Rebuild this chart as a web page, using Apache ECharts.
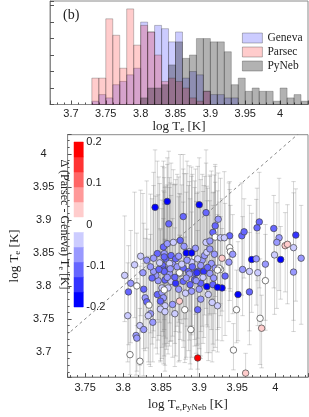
<!DOCTYPE html>
<html><head><meta charset="utf-8">
<script src="https://cdn.jsdelivr.net/npm/echarts@6/dist/echarts.min.js"></script>
<style>html,body{margin:0;padding:0;background:#fff}#c{width:309px;height:417px}</style>
</head><body><div id="c"></div>
<script>
// ---- histogram (panel b, top) ----
const histBinStarts = [3.73,3.74,3.75,3.76,3.77,3.78,3.79,3.80,3.81,3.82,3.83,3.84,3.85,3.86,3.87,3.88,3.89,3.90,3.91,3.92,3.93,3.94,3.95,3.96,3.97,3.98,3.99,4.00,4.01,4.02,4.03];
const histBinWidth = 0.01;
const genevaCounts = [1,3,2,6,7,9,11,25,22,24,23,19,22,8,10,9,4,3,3,2,2,0,0,0,0,0,0,0,0,0,0];
const parsecCounts = [8,8,26,21,11,29,18,24,22,15,7,8,7,5,2,1,4,0,0,0,0,0,0,0,0,0,0,0,0,0,0];
const pynebCounts  = [0,0,0,0,0,0,0,2,5,5,6,12,19,14,15,20,20,19,19,16,6,8,4,5,4,4,1,5,2,3,1];
const histNames = ['Geneva','Parsec','PyNeb'];
const histColors = ['rgba(0,0,255,0.2)','rgba(255,0,0,0.2)','rgba(0,0,0,0.3)'];

// ---- colour bar ----
const cbMin = -0.2, cbMax = 0.2;
const cbColors = ['#0000ff','#3333ff','#6666ff','#9999ff','#ccccff','#ffffff','#ffcccc','#ff9999','#ff6666','#ff3333','#ff0000'];

// ---- scatter: [logTe PyNeb, logTe, delta(Parsec-Geneva), err down, err up] ----
const stars = [
[3.842,3.919,-0.19,0.09,0.087],[3.858,3.928,-0.19,0.10,0.066],[3.900,3.923,-0.19,0.10,0.071],[3.879,3.905,-0.12,0.11,0.094],
[3.860,3.894,-0.11,0.09,0.11],[3.909,3.911,-0.10,0.10,0.095],[3.925,3.901,-0.08,0.08,0.07],[3.921,3.891,-0.10,0.12,0.09],
[3.918,3.881,-0.10,0.10,0.06],[3.875,3.869,-0.11,0.12,0.13],[3.940,3.876,-0.11,0.08,0.07],[3.956,3.876,-0.11,0.09,0.08],
[3.959,3.882,-0.11,0.07,0.05],[3.979,3.897,-0.11,0.10,0.075],[3.976,3.888,-0.12,0.08,0.06],[3.998,3.887,-0.11,0.09,0.05],
[4.027,3.877,-0.15,0.10,0.07],[4.005,3.873,-0.07,0.08,0.09],[4.002,3.866,-0.08,0.10,0.06],[4.013,3.861,0.04,0.07,0.05],
[4.016,3.863,0.05,0.09,0.06],[4.024,3.858,-0.05,0.11,0.10],[3.999,3.847,-0.05,0.09,0.04],[4.007,3.840,-0.18,0.06,0.05],
[4.034,3.842,-0.07,0.10,0.08],[3.969,3.840,-0.18,0.08,0.07],[3.975,3.841,-0.07,0.07,0.09],[3.987,3.833,-0.07,0.10,0.06],
[3.940,3.858,0.00,0.08,0.10],[3.941,3.852,0.00,0.06,0.07],[3.944,3.848,-0.07,0.09,0.06],[3.930,3.842,0.04,0.08,0.09],
[3.957,3.825,-0.07,0.07,0.08],[3.966,3.822,-0.05,0.09,0.10],[3.977,3.820,-0.05,0.08,0.06],[4.024,3.821,-0.08,0.09,0.12],
[3.928,3.825,0.00,0.07,0.08],[3.987,3.808,0.00,0.06,0.07],[3.966,3.791,-0.10,0.08,0.09],[3.951,3.787,-0.19,0.07,0.08],
[3.949,3.764,0.00,0.05,0.06],[3.980,3.751,0.00,0.07,0.09],[3.982,3.736,0.05,0.06,0.05],[3.945,3.703,0.00,0.03,0.04],
[3.961,3.668,0.05,0.01,0.03],[3.898,3.691,0.19,0.03,0.09],[3.889,3.734,0.00,0.06,0.10],[3.881,3.764,0.00,0.08,0.11],
[3.898,3.764,-0.11,0.09,0.12],[3.874,3.777,0.05,0.09,0.10],[3.868,3.758,-0.05,0.08,0.13],[3.855,3.770,-0.05,0.09,0.10],
[3.882,3.789,-0.04,0.10,0.12],[3.924,3.770,-0.05,0.07,0.10],[3.934,3.815,-0.11,0.09,0.11],[3.930,3.797,-0.18,0.08,0.09],
[3.802,3.816,-0.05,0.07,0.09],[3.810,3.804,-0.07,0.09,0.08],[3.818,3.800,0.00,0.06,0.08],[3.807,3.791,-0.12,0.08,0.07],
[3.827,3.795,-0.12,0.09,0.10],[3.829,3.782,-0.07,0.08,0.09],[3.831,3.776,-0.10,0.07,0.11],[3.834,3.771,0.00,0.09,0.10],
[3.836,3.758,-0.07,0.08,0.12],[3.833,3.755,-0.05,0.07,0.09],[3.839,3.745,-0.07,0.06,0.10],[3.806,3.755,-0.05,0.07,0.08],
[3.822,3.740,-0.05,0.06,0.09],[3.827,3.734,-0.07,0.07,0.10],[3.817,3.725,-0.07,0.06,0.08],[3.818,3.721,-0.07,0.05,0.09],
[3.809,3.696,0.00,0.03,0.06],[3.822,3.686,0.00,0.03,0.08],[3.845,3.787,-0.11,0.09,0.13],[3.849,3.765,-0.05,0.08,0.12],
[3.855,3.761,-0.04,0.09,0.11],[3.851,3.790,-0.07,0.10,0.14],[3.846,3.808,-0.07,0.09,0.13],[3.843,3.816,-0.08,0.11,0.12],
[3.854,3.849,-0.08,0.10,0.13],[3.856,3.841,-0.12,0.12,0.11],[3.863,3.846,-0.10,0.09,0.14],[3.865,3.834,-0.07,0.11,0.12],
[3.852,3.831,-0.11,0.10,0.15],[3.857,3.824,-0.11,0.12,0.10],[3.871,3.829,-0.07,0.09,0.14],[3.875,3.819,0.00,0.10,0.12],
[3.879,3.827,-0.11,0.11,0.15],[3.886,3.822,-0.10,0.12,0.13],[3.894,3.819,-0.12,0.10,0.14],[3.898,3.822,-0.11,0.11,0.12],
[3.904,3.839,-0.07,0.10,0.13],[3.907,3.846,-0.07,0.09,0.12],[3.910,3.851,-0.05,0.11,0.10],[3.914,3.856,-0.07,0.10,0.11],
[3.920,3.848,-0.07,0.09,0.12],[3.916,3.834,-0.07,0.10,0.14],[3.921,3.827,-0.08,0.12,0.13],[3.926,3.827,0.00,0.09,0.10],
[3.909,3.866,-0.05,0.10,0.12],[3.914,3.868,-0.07,0.11,0.10],[3.921,3.874,0.00,0.09,0.11],[3.928,3.873,-0.04,0.10,0.09],
[3.933,3.873,-0.04,0.08,0.10],[3.939,3.836,-0.07,0.09,0.12],[3.890,3.836,-0.05,0.11,0.13],[3.884,3.839,-0.07,0.10,0.15],
[3.898,3.841,-0.05,0.12,0.14],[3.902,3.831,-0.08,0.10,0.13],[3.869,3.841,-0.11,0.11,0.12],[3.861,3.834,-0.05,0.09,0.13],
[3.853,3.824,-0.10,0.10,0.12],[3.861,3.819,-0.07,0.11,0.13],[3.874,3.820,0.00,0.09,0.12],[3.887,3.818,-0.07,0.10,0.14],
[3.897,3.820,-0.15,0.11,0.12],[3.906,3.822,-0.15,0.10,0.13],[3.914,3.819,-0.08,0.12,0.11],[3.924,3.824,0.00,0.09,0.12],
[3.855,3.809,-0.11,0.10,0.14],[3.863,3.807,-0.05,0.09,0.13],[3.869,3.804,-0.15,0.11,0.15],[3.879,3.807,-0.10,0.10,0.12],
[3.888,3.802,-0.11,0.12,0.13],[3.894,3.809,-0.10,0.10,0.14],[3.902,3.804,-0.12,0.11,0.12],[3.910,3.799,-0.17,0.10,0.13],
[3.918,3.802,-0.11,0.09,0.12],[3.924,3.798,-0.17,0.08,0.11],[3.859,3.797,-0.05,0.10,0.13],[3.873,3.795,-0.08,0.11,0.14],
[3.890,3.792,-0.07,0.10,0.12],[3.900,3.795,-0.08,0.09,0.13],[3.912,3.787,-0.05,0.10,0.12],[3.902,3.780,-0.08,0.09,0.14],
[3.853,3.782,-0.07,0.10,0.12],[3.865,3.772,-0.07,0.08,0.13],[3.917,3.775,-0.05,0.09,0.11],
[3.840,3.822,-0.08,0.10,0.13],[3.854,3.822,-0.12,0.11,0.12],[3.858,3.813,-0.07,0.10,0.14],[3.851,3.797,-0.05,0.09,0.12],
[3.854,3.794,0.00,0.10,0.13],[3.849,3.777,-0.11,0.09,0.11],
[3.831,3.839,-0.07,0.09,0.12],[3.845,3.849,-0.11,0.10,0.14],[3.854,3.844,-0.11,0.11,0.12],[3.853,3.859,-0.10,0.10,0.13],
[3.848,3.835,-0.05,0.09,0.12],[3.836,3.829,-0.07,0.10,0.11],[3.840,3.842,-0.08,0.11,0.13],[3.823,3.845,-0.05,0.09,0.10],
[3.815,3.832,-0.04,0.08,0.11],[3.858,3.864,-0.07,0.10,0.12],[3.866,3.866,-0.05,0.11,0.11],
[3.838,3.812,-0.10,0.10,0.12],[3.862,3.826,-0.08,0.11,0.13],[3.868,3.813,-0.10,0.10,0.14],[3.877,3.833,-0.05,0.09,0.12],
[3.883,3.812,-0.08,0.12,0.13],[3.891,3.829,-0.11,0.10,0.14],[3.896,3.808,-0.07,0.11,0.12],[3.905,3.813,-0.05,0.10,0.13],
[3.911,3.828,-0.10,0.09,0.12],[3.919,3.812,-0.08,0.11,0.13],[3.873,3.845,-0.08,0.10,0.12],[3.887,3.852,-0.05,0.09,0.13],
[3.895,3.857,-0.07,0.10,0.12],[3.880,3.860,-0.08,0.11,0.11],[3.847,3.825,-0.10,0.10,0.14],[3.826,3.820,-0.07,0.09,0.12],
[3.883,3.850,-0.19,0.10,0.12],[3.890,3.850,-0.19,0.11,0.13]
];
const oneToOne = [[3.6,3.6],[4.1,4.1]];

// ---- build ----
const SANS = 'Liberation Sans', SERIF = 'Liberation Serif';
const tickCol = '#555', frameCol = '#8a8a8a';
const fmt = v => String(+(+v).toFixed(3));
function richName(main, sub, tail, size) {
  return {
    text: '{m|' + main + '}{s|' + sub + '}{m|' + tail + '}',
    style: { fontFamily: SERIF, fontSize: size, color: '#222',
      rich: { m: { fontFamily: SERIF, fontSize: size, lineHeight: size + 2, color: '#222' },
              s: { fontFamily: SERIF, fontSize: Math.round(size * 0.7), lineHeight: 7, verticalAlign: 'bottom', color: '#222' } } }
  };
}
function valueAxis(extra) {
  return Object.assign({
    type: 'value', scale: true,
    axisLine: { show: true, lineStyle: { color: frameCol, width: 1 } },
    axisTick: { show: true, inside: true, length: 4, lineStyle: { color: tickCol } },
    minorTick: { show: true, splitNumber: 5, length: 2, lineStyle: { color: tickCol } },
    splitLine: { show: false }, minorSplitLine: { show: false },
    axisLabel: { fontFamily: SANS, fontSize: 11, color: '#222', showMinLabel: false, showMaxLabel: false, formatter: fmt }
  }, extra);
}

const nHistX = richName('log T', 'e', ' [K]', 13);
const nScX = richName('log T', 'e,PyNeb', ' [K]', 13);
const nScY = richName('log T', 'e', ' [K]', 13);
const nCb = richName('\u0394 (Parsec - Geneva) T', 'e', ' [K]', 12);

function histRender(fill) {
  return function (params, api) {
    const x0 = api.value(0), c = api.value(1);
    if (!c) return null;
    const p0 = api.coord([x0, 0]), p1 = api.coord([x0 + histBinWidth, c]);
    return { type: 'rect', shape: { x: p0[0], y: p1[1], width: p1[0] - p0[0], height: p0[1] - p1[1] },
      style: { fill: fill, stroke: 'rgba(40,40,40,0.35)', lineWidth: 0.8 } };
  };
}
const histSeries = [genevaCounts, parsecCounts, pynebCounts].map((counts, k) => ({
  name: histNames[k], type: 'custom', xAxisIndex: 0, yAxisIndex: 0,
  itemStyle: { color: histColors[k] },
  data: histBinStarts.map((b, i) => [b, counts[i]]),
  encode: { x: 0, y: 1 },
  renderItem: histRender(histColors[k]), z: 2
}));

const cbStep = (cbMax - cbMin) / cbColors.length;
const pieces = cbColors.map((c, i) => ({ min: cbMin + i * cbStep, max: cbMin + (i + 1) * cbStep, color: c }));

const option = {
  animation: false,
  backgroundColor: '#fff',
  grid: [
    { left: 50, top: 1, width: 258, height: 103.5, show: true, borderColor: frameCol, borderWidth: 1 },
    { left: 50, top: 134.7, width: 258, height: 248.3, show: true, borderColor: frameCol, borderWidth: 1 },
    { left: 74, top: 142, width: 9.3, height: 165, show: false }
  ],
  xAxis: [
    valueAxis({ gridIndex: 0, min: 3.67, max: 4.04, minInterval: 0.05, maxInterval: 0.05,
      axisLabel: { fontFamily: SANS, fontSize: 11, color: '#222', margin: 4, showMinLabel: false, showMaxLabel: false, formatter: fmt },
      name: nHistX.text, nameLocation: 'middle', nameGap: 12, nameTextStyle: nHistX.style }),
    valueAxis({ gridIndex: 1, min: 3.727, max: 4.043, minInterval: 0.05, maxInterval: 0.05,
      axisLabel: { fontFamily: SANS, fontSize: 11, color: '#222', margin: 5, showMinLabel: false, showMaxLabel: false, formatter: fmt },
      name: nScX.text, nameLocation: 'middle', nameGap: 16, nameTextStyle: nScX.style }),
    { type: 'value', gridIndex: 2, min: 0, max: 1, show: false }
  ],
  yAxis: [
    valueAxis({ gridIndex: 0, min: 0, max: 31.4, interval: 5, scale: false,
      axisLabel: { show: false }, minorTick: { show: false } }),
    valueAxis({ gridIndex: 1, min: 3.662, max: 4.029, minInterval: 0.05, maxInterval: 0.05,
      axisLabel: { fontFamily: SANS, fontSize: 11, color: '#222', margin: 24, align: 'center', showMinLabel: false, showMaxLabel: false, formatter: fmt },
      name: nScY.text, nameLocation: 'middle', nameRotate: 90, nameGap: 34, nameTextStyle: nScY.style }),
    { type: 'value', gridIndex: 2, position: 'right', min: cbMin, max: cbMax, interval: 0.1,
      axisLine: { show: false }, axisTick: { show: false }, splitLine: { show: false },
      axisLabel: { fontFamily: SANS, fontSize: 11, color: '#222', margin: 3, formatter: fmt } },
    { type: 'value', gridIndex: 2, position: 'left', min: cbMin, max: cbMax,
      axisLine: { show: false }, axisTick: { show: false }, splitLine: { show: false }, axisLabel: { show: false },
      name: nCb.text, nameLocation: 'middle', nameRotate: -90, nameGap: 3, nameTextStyle: nCb.style }
  ],
  legend: {
    data: histNames.map(n => ({ name: n, icon: 'rect' })), orient: 'vertical', left: 242, top: 31,
    itemWidth: 20, itemHeight: 10, itemGap: 0, padding: 0, selectedMode: false,
    itemStyle: { borderColor: 'rgba(40,40,40,0.4)', borderWidth: 0.8 },
    textStyle: { fontFamily: SERIF, fontSize: 11.5, lineHeight: 14, color: '#222' }
  },
  visualMap: [{ type: 'piecewise', show: false, seriesIndex: 6, dimension: 2, pieces: pieces }],
  graphic: [{ type: 'text', left: 63, top: 8, style: { text: '(b)', font: '14px "Liberation Serif"', fill: '#222' } }],
  series: histSeries.concat([
    { type: 'custom', xAxisIndex: 2, yAxisIndex: 2, data: cbColors.map((c, i) => [i]), encode: { x: 0, y: 0 }, z: 3,
      renderItem: function (params, api) {
        const i = api.value(0);
        const a = api.coord([0, cbMin + i * cbStep]), b = api.coord([1, cbMin + (i + 1) * cbStep]);
        return { type: 'rect', shape: { x: a[0], y: b[1], width: b[0] - a[0], height: a[1] - b[1] },
          style: { fill: cbColors[i], stroke: cbColors[i], lineWidth: 0.5 } };
      } },
    { type: 'custom', xAxisIndex: 1, yAxisIndex: 1, z: 2,
      data: stars.map(s => [s[0], s[1] - s[3], s[1] + s[4]]), encode: { x: 0, y: [1, 2] },
      renderItem: function (params, api) {
        const x = api.value(0);
        const a = api.coord([x, api.value(1)]), b = api.coord([x, api.value(2)]);
        const cw = 2.2, cs = params.coordSys;
        const st = { stroke: 'rgba(120,120,120,0.3)', lineWidth: 1 };
        return { type: 'group',
          clipPath: { type: 'rect', shape: { x: cs.x, y: cs.y, width: cs.width, height: cs.height } },
          children: [
            { type: 'line', shape: { x1: a[0], y1: a[1], x2: b[0], y2: b[1] }, style: st },
            { type: 'line', shape: { x1: a[0] - cw, y1: a[1], x2: a[0] + cw, y2: a[1] }, style: st },
            { type: 'line', shape: { x1: b[0] - cw, y1: b[1], x2: b[0] + cw, y2: b[1] }, style: st }
          ] };
      } },
    { type: 'line', xAxisIndex: 1, yAxisIndex: 1, data: oneToOne, symbol: 'none', clip: true, z: 3,
      lineStyle: { color: '#888', width: 1, type: [3, 3] } },
    { type: 'scatter', xAxisIndex: 1, yAxisIndex: 1, z: 5, symbolSize: 6.5,
      data: stars.map(s => [s[0], s[1], s[2]]),
      itemStyle: { borderColor: '#444', borderWidth: 0.7, opacity: 1 } }
  ])
};
const chart = echarts.init(document.getElementById('c'), null, { renderer: 'canvas' });
chart.setOption(option);
</script></body></html>
